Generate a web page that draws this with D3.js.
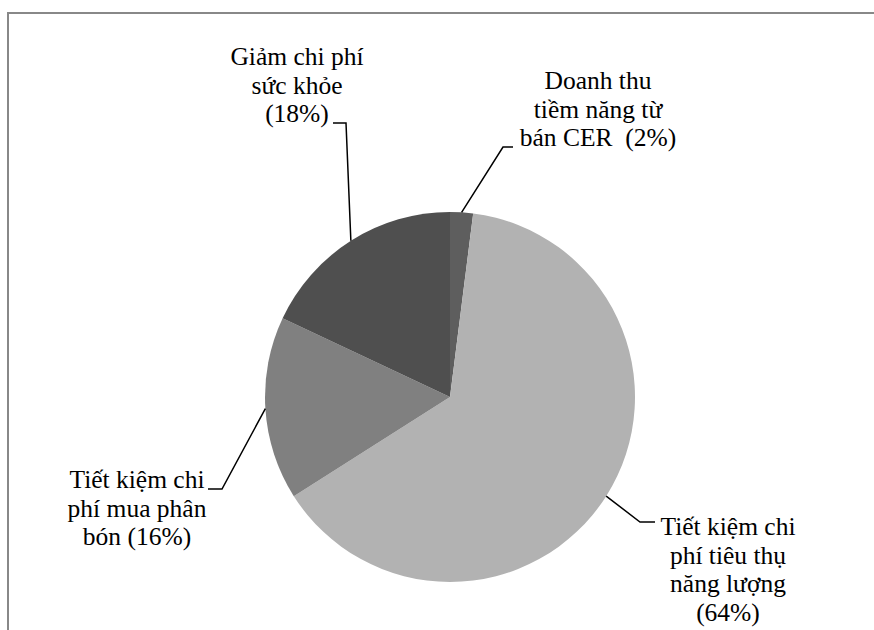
<!DOCTYPE html>
<html>
<head>
<meta charset="utf-8">
<script src="https://cdn.jsdelivr.net/npm/d3@7"></script>
</head>
<body style="margin:0; background:#fff">
<div id="chart"></div>
<script>
var SVGWidth = 874;
var SVGHeight = 630;

// slices, clockwise from 12 o'clock
var categories = [
    ["Doanh thu", "tiềm năng từ", "bán CER \u00a0(2%)"],
    ["Tiết kiệm chi", "phí tiêu thụ", "năng lượng", "(64%)"],
    ["Tiết kiệm chi", "phí mua phân", "bón (16%)"],
    ["Giảm chi phí", "sức khỏe", "(18%)"]
];
var values = [2, 64, 16, 18];
var colors = ["#5e5e5e", "#b2b2b2", "#808080", "#4f4f4f"];

// label placement: text centre x, first baseline y, leader elbow and end
var labelPos = [
    { cx: 598, y: 89, elbow: [503, 147], end: [513, 147] },
    { cx: 728, y: 535, elbow: [640, 522], end: [655, 522] },
    { cx: 137, y: 488, elbow: [222, 489], end: [208, 489] },
    { cx: 297, y: 65, elbow: [346, 123], end: [333, 123] }
];

var centerX = 450, centerY = 397, radius = 185;
var lineHeight = 28.7;

var svg = d3.select("#chart")
    .append("svg")
        .attr("width", SVGWidth)
        .attr("height", SVGHeight);

// outer frame (runs off right and bottom)
svg.append("rect")
    .attr("x", 8)
    .attr("y", 13)
    .attr("width", SVGWidth + 20)
    .attr("height", SVGHeight + 20)
    .attr("fill", "none")
    .attr("stroke", "#888")
    .attr("stroke-width", 2);

var data = values.map(function(v, i) {
    return { value: v, lines: categories[i], color: colors[i], pos: labelPos[i] };
});

var pie = d3.pie()
    .sort(null)
    .value(function(d) { return d.value; });

var arc = d3.arc().innerRadius(0).outerRadius(radius);
var edgeArc = d3.arc().innerRadius(radius).outerRadius(radius);

var g = svg.append("g")
    .attr("transform", "translate(" + centerX + "," + centerY + ")");

var arcs = pie(data);

g.selectAll("path.slice")
    .data(arcs)
    .enter()
    .append("path")
    .attr("class", "slice")
    .attr("d", arc)
    .attr("fill", function(d) { return d.data.color; });

// leader lines
svg.selectAll("path.leader")
    .data(arcs)
    .enter()
    .append("path")
    .attr("class", "leader")
    .attr("fill", "none")
    .attr("stroke", "#000")
    .attr("stroke-width", 1.5)
    .attr("d", function(d) {
        var c = edgeArc.centroid(d);
        var p = d.data.pos;
        return "M" + (c[0] + centerX) + "," + (c[1] + centerY) +
            "L" + p.elbow[0] + "," + p.elbow[1] +
            "L" + p.end[0] + "," + p.end[1];
    });

// labels, one text per line
arcs.forEach(function(d) {
    var p = d.data.pos;
    d.data.lines.forEach(function(line, i) {
        svg.append("text")
            .attr("x", p.cx)
            .attr("y", p.y + i * lineHeight)
            .attr("text-anchor", "middle")
            .style("font-family", "Liberation Serif")
            .style("font-size", "25.5px")
            .attr("fill", "#000")
            .text(line);
    });
});
</script>
</body>
</html>
